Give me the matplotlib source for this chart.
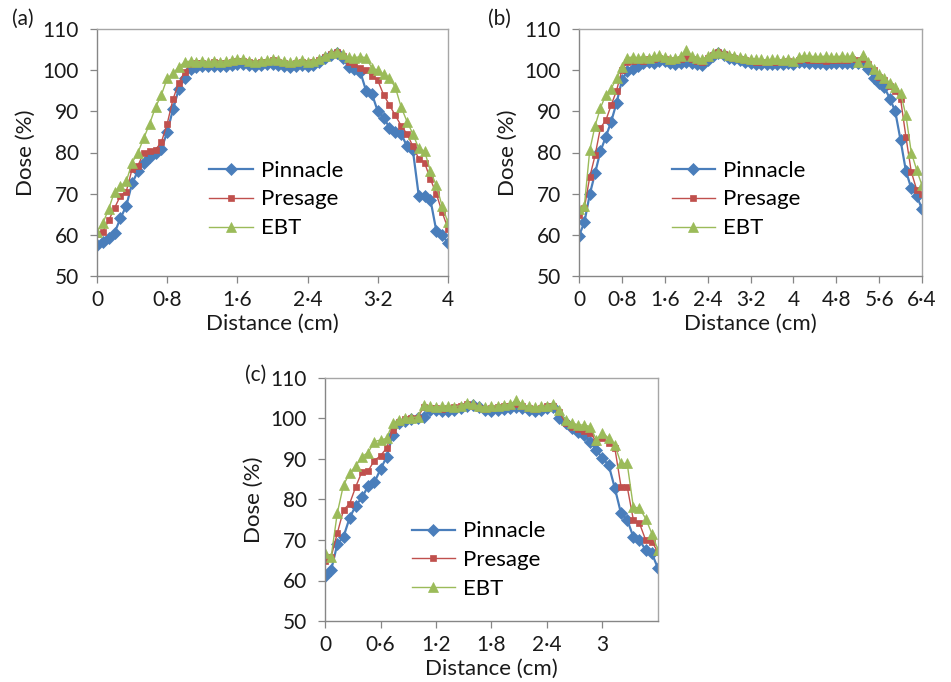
import numpy as np
import matplotlib
matplotlib.use("Agg")
import matplotlib.pyplot as plt

plt.rcParams['font.family'] = ['Lato', 'DejaVu Sans']

SERIES = ['Pinnacle', 'Presage', 'EBT']

# panel (a): 0-4 cm
dist_a = np.linspace(0, 4, 61)
pinnacle_a = [57.6, 58.2, 59.3, 60.5, 64.0, 67.0, 72.5, 75.5, 77.5, 79.0,
              80.0, 80.8, 85.0, 90.5, 95.5, 98.0, 100.3,
              100.8, 101.0, 100.9, 101.1, 100.9, 101.0, 101.3, 101.5, 101.6, 101.2,
              101.0, 101.2, 101.4, 101.6, 101.3, 101.0, 100.8, 101.0, 101.2, 100.9,
              101.2, 102.0, 103.0, 103.8, 104.2, 103.0, 100.8, 100.4, 99.6, 95.0,
              94.2, 90.0, 88.5, 86.0, 85.0, 84.5, 81.5, 80.5, 69.5, 69.5,
              68.5, 61.0, 60.0, 58.0]
presage_a = [60.3, 60.8, 63.5, 66.5, 69.5, 70.5, 76.0, 76.8, 80.0, 80.3,
             80.7, 82.5, 87.0, 93.0, 97.0, 99.5, 101.5,
             101.7, 101.8, 101.6, 101.9, 101.7, 101.8, 102.0, 102.2, 102.3, 101.9,
             101.7, 101.9, 102.1, 102.4, 102.0, 101.8, 101.6, 101.8, 102.0, 101.7,
             102.0, 102.5, 103.3, 104.0, 104.5, 103.5, 102.0, 101.5, 100.5, 100.0,
             98.5, 97.5, 94.0, 91.5, 89.0, 86.5, 84.5, 81.5, 78.5, 77.5,
             73.5, 70.0, 65.5, 61.5]
ebt_a = [60.8, 62.8, 66.3, 70.5, 71.8, 73.0, 77.5, 80.0, 83.5, 87.0,
         91.0, 94.0, 98.0, 99.2, 100.8, 102.0, 102.2,
         102.0, 102.2, 102.0, 102.3, 102.1, 102.2, 102.4, 102.6, 102.7, 102.3,
         102.1, 102.3, 102.5, 102.8, 102.4, 102.2, 102.0, 102.2, 102.4, 102.1,
         102.3, 102.8, 103.5, 104.2, 104.5, 104.0, 103.2, 103.0, 103.3, 103.0,
         100.5, 100.0, 99.0, 98.0, 95.8, 91.0, 87.5, 84.5, 81.0, 80.3,
         75.5, 72.0, 67.0, 63.0]

# panel (b): 0-6.4 cm
dist_b = np.linspace(0, 6.4, 65)
pinnacle_b = [59.8, 63.0, 69.8, 75.0, 80.3, 83.8, 87.5, 92.0, 97.5, 99.8,
              100.2, 101.0, 101.8, 102.0, 101.8, 102.2, 102.3, 101.8, 101.6, 101.8,
              102.0, 101.8, 101.5, 101.2, 102.5, 103.5, 104.2, 103.8, 103.0, 102.6,
              102.4, 102.0, 101.8, 101.6, 101.6, 101.5, 101.6, 101.6, 101.5, 101.7,
              101.6, 102.0, 102.0, 101.8, 101.8, 101.7, 101.6, 101.7, 101.8, 101.8,
              101.7, 101.8, 101.8, 101.9, 100.4, 98.0, 96.8, 95.8, 93.1, 90.0,
              83.0, 75.5, 71.3, 69.5, 66.3]
presage_b = [64.8, 66.5, 74.0, 79.3, 86.0, 87.8, 91.5, 95.0, 100.0, 102.0,
             102.3, 102.5, 102.3, 102.6, 102.8, 103.0, 102.6, 102.3, 102.5, 102.8,
             103.2, 102.8, 102.3, 102.0, 103.0, 103.8, 104.3, 104.0, 103.3, 102.9,
             102.6, 102.4, 102.2, 102.1, 102.0, 102.0, 101.9, 102.0, 102.0, 102.2,
             102.0, 102.5, 102.6, 102.5, 102.4, 102.4, 102.3, 102.5, 102.4, 102.5,
             102.4, 102.6, 102.5, 102.6, 101.5, 100.0, 98.3, 97.5, 96.2, 95.0,
             93.0, 83.8, 75.3, 71.0, 69.8]
ebt_b = [66.3, 67.0, 80.5, 86.5, 90.8, 94.0, 95.5, 98.0, 100.8, 103.0,
         103.2, 103.0, 103.3, 103.0, 103.5, 103.6, 103.2, 102.8, 103.0, 103.4,
         104.8, 103.5, 103.0, 102.6, 103.5, 104.2, 104.5, 104.2, 103.8, 103.5,
         103.2, 103.0, 102.8, 102.6, 102.6, 102.5, 102.6, 102.6, 102.4, 102.7,
         102.2, 103.3, 103.5, 103.4, 103.3, 103.3, 103.4, 103.3, 103.3, 103.4,
         103.3, 103.4, 102.0, 103.6, 102.0, 100.4, 99.0, 98.2, 96.8, 95.8,
         94.5, 89.0, 80.0, 75.8, 72.0]

# panel (c): 0-3.6 cm
dist_c = np.linspace(0, 3.6, 55)
pinnacle_c = [61.0, 62.6, 69.0, 70.8, 75.5, 78.5, 80.5, 83.3, 84.2, 87.5,
              90.5, 96.0, 98.8, 99.5, 99.8, 100.0, 100.3, 102.0, 102.0, 101.8,
              101.9, 102.0, 102.5, 103.0, 103.3, 102.8, 102.0, 101.8, 102.0, 102.3,
              102.5, 102.8, 102.6, 102.2, 101.8, 102.0, 102.5, 102.8, 100.0, 98.8,
              97.6, 96.7, 95.9, 94.3, 92.2, 90.2, 88.5, 82.8, 76.6, 75.0,
              70.8, 70.0, 67.5, 66.7, 63.0]
presage_c = [64.9, 65.9, 71.7, 77.4, 79.0, 83.2, 86.9, 87.1, 89.6, 90.8,
             92.7, 97.2, 99.2, 99.8, 100.0, 100.2, 102.8, 102.6, 102.5, 102.4,
             102.6, 102.8, 103.2, 103.5, 103.2, 102.5, 102.3, 102.6, 102.8, 103.0,
             103.2, 103.5, 103.0, 102.5, 102.3, 102.6, 103.0, 103.0, 101.5, 99.0,
             98.0, 97.5, 97.0, 96.5, 94.3, 95.2, 93.9, 92.7, 83.2, 83.2,
             75.0, 74.1, 70.0, 69.6, 67.0]
ebt_c = [66.9, 65.9, 76.7, 83.6, 86.5, 88.3, 90.6, 91.6, 94.3, 94.7,
         95.1, 99.0, 99.6, 100.0, 100.2, 100.4, 103.3, 103.0, 102.8, 103.0,
         103.2, 102.9, 103.2, 103.8, 103.5, 103.0, 102.8, 103.0, 103.2, 103.4,
         103.5, 104.5, 103.5, 103.0, 102.8, 103.0, 103.2, 103.7, 102.0, 99.6,
         99.0, 98.4, 98.4, 98.0, 94.8, 96.5, 95.1, 93.5, 88.9, 88.9,
         78.2, 77.8, 75.3, 71.6, 67.5]

ticks_a = [0, 0.8, 1.6, 2.4, 3.2, 4]
ticks_b = [0, 0.8, 1.6, 2.4, 3.2, 4, 4.8, 5.6, 6.4]
ticks_c = [0, 0.6, 1.2, 1.8, 2.4, 3]
yticks = [50, 60, 70, 80, 90, 100, 110]

COLORS = ['#4A7EBB', '#C0504D', '#9BBB59']
MARKERS = ['D', 's', '^']
MSIZE = [6.5, 5, 7]
LWIDTH = [1.6, 1.0, 1.0]
TXT = '#1a1a1a'

W, H = 951, 682


def fmt(v):
    s = ('%g' % v)
    return s.replace('.', '\u00b7')


def panel(fig, box, dist, series, xticks, xmax, letter, letter_xy, leg_xy):
    # box given in pixels: left, top, right, bottom
    l, t, r, b = box
    ax = fig.add_axes([l / W, 1 - b / H, (r - l) / W, (b - t) / H])
    for vals, c, m, ms, lw, name in zip(series, COLORS, MARKERS, MSIZE, LWIDTH, SERIES):
        ax.plot(dist, vals, color=c, marker=m, markersize=ms, lw=lw,
                markeredgewidth=0.5, markeredgecolor=c, label=name)
    ax.set_xlim(0, xmax)
    ax.set_ylim(50, 110)
    ax.set_xticks(xticks)
    ax.set_xticklabels([fmt(t) for t in xticks])
    ax.set_yticks(yticks)
    ax.tick_params(labelsize=15, length=5, width=0.9, color='#868686',
                   labelcolor=TXT)
    ax.tick_params(axis='y', pad=8)
    ax.tick_params(axis='x', pad=5)
    for s in ax.spines.values():
        s.set_color('#A6A6A6')
        s.set_linewidth(1.0)
    ax.spines['left'].set_color('#868686')
    ax.spines['bottom'].set_color('#868686')
    ax.set_xlabel('Distance (cm)', fontsize=16, labelpad=3, color=TXT)
    ax.set_ylabel('Dose (%)', fontsize=16, labelpad=5, color=TXT)
    fig.text(letter_xy[0] / W, 1 - letter_xy[1] / H, letter, fontsize=15,
             ha='left', va='center', color=TXT)
    ax.legend(loc='center left', bbox_to_anchor=leg_xy, frameon=False,
              fontsize=16, handlelength=1.95, handletextpad=0.36,
              labelspacing=0.4, borderpad=0, borderaxespad=0)
    return ax


fig = plt.figure(figsize=(W / 100, H / 100), dpi=100)
panel(fig, (97, 29, 448, 276), dist_a, [pinnacle_a, presage_a, ebt_a],
      ticks_a, 4, '(a)', (12, 19), (0.32, 0.31))
panel(fig, (579, 29, 922, 276), dist_b, [pinnacle_b, presage_b, ebt_b],
      ticks_b, 6.4, '(b)', (488, 19), (0.27, 0.31))
panel(fig, (325, 378, 658, 621), dist_c, [pinnacle_c, presage_c, ebt_c],
      ticks_c, 3.6, '(c)', (245, 375), (0.26, 0.25))

fig.savefig('out.png', dpi=100)
